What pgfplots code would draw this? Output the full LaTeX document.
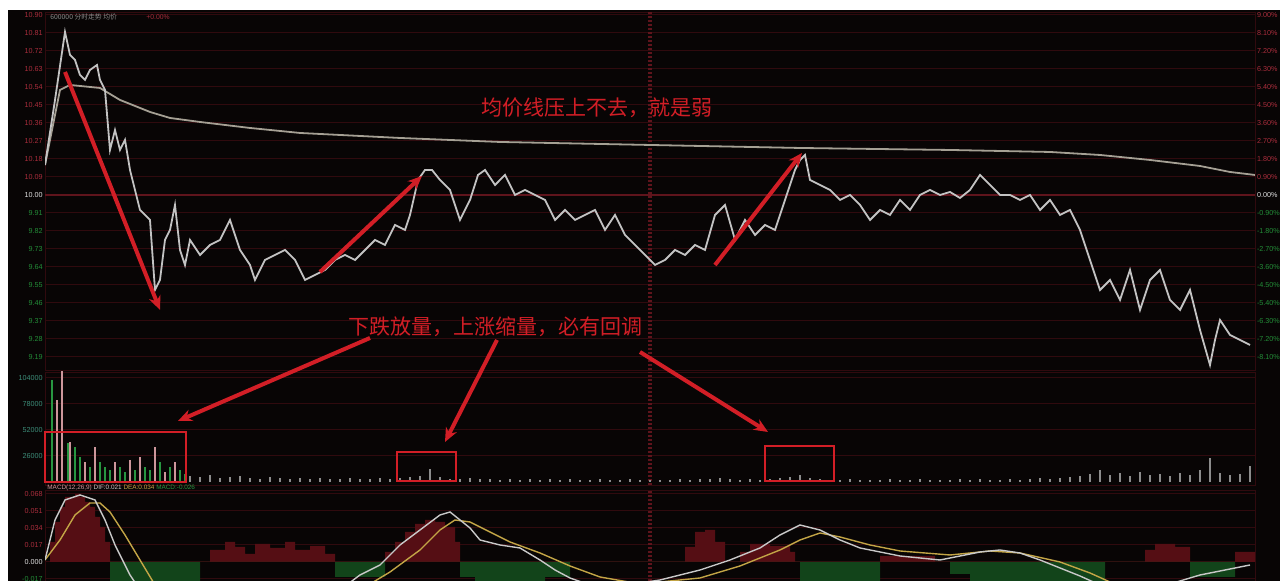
\documentclass[border=0pt]{standalone}
\usepackage{pgfplots}
\pgfplotsset{compat=1.18}
\usepackage{fontspec}
\setmainfont{Liberation Sans}
\newfontfamily\cjk{Noto Sans CJK SC}
\usetikzlibrary{arrows.meta}

\definecolor{bg}{RGB}{8,5,5}
\definecolor{gridred}{RGB}{48,10,14}
\definecolor{zerored}{RGB}{95,20,28}
\definecolor{upred}{RGB}{170,45,60}
\definecolor{dngreen}{RGB}{35,140,55}
\definecolor{zerow}{RGB}{225,225,225}
\definecolor{priceln}{RGB}{195,195,195}
\definecolor{avgln}{RGB}{165,160,148}
\definecolor{annot}{RGB}{210,30,38}
\definecolor{volup}{RGB}{205,150,155}
\definecolor{voldn}{RGB}{40,150,65}
\definecolor{voltail}{RGB}{140,140,140}
\definecolor{histred}{RGB}{85,14,20}
\definecolor{histgreen}{RGB}{18,68,26}
\definecolor{difln}{RGB}{200,200,200}
\definecolor{dealn}{RGB}{195,165,70}
\definecolor{teal}{RGB}{60,140,120}

% colour a tick label by its sign
\newcommand{\sgncol}[1]{%
  \pgfmathfloatparsenumber{#1}\pgfmathfloattofixed{\pgfmathresult}\edef\tv{\pgfmathresult}%
  \ifdim\tv pt>0.01pt\color{upred}\else\ifdim\tv pt<-0.01pt\color{dngreen}\else\color{zerow}\fi\fi}

\pgfplotsset{
  panel/.style={
    scale only axis, width=605pt, anchor=south west,
    xmin=0, xmax=242, clip=true,
    axis line style={draw=gridred},
    tick style={draw=none}, xtick=\empty,
    ymajorgrids, major grid style={gridred, line width=0.5pt},
    extra x ticks={121}, extra x tick labels={},
    extra x tick style={grid=major, major grid style={zerored, line width=1.6pt, dash pattern=on 1.2pt off 0.8pt}},
    every tick label/.append style={font=\fontsize{3.6}{4}\selectfont},
    /pgf/number format/assume math mode=true,
  },
}

\begin{document}
\begin{tikzpicture}
\useasboundingbox (0,0) rectangle (640pt,290.5pt);
\fill[white] (0,0) rectangle (640pt,290.5pt);
\fill[bg] (4pt,0) rectangle (640pt,285.5pt);

% ---- price panel, left labels (price)
\begin{axis}[panel, at={(22.5pt,105.5pt)}, height=179pt,
  ymin=-8.75, ymax=9.15,
  ytick={-8.1,-7.2,-6.3,-5.4,-4.5,-3.6,-2.7,-1.8,-0.9,0,0.9,1.8,2.7,3.6,4.5,5.4,6.3,7.2,8.1,9.0},
  yticklabel style={inner sep=1pt},
  yticklabel={\sgncol{\tick}\pgfmathparse{10+\tv/10}\pgfmathprintnumber[fixed,precision=2,fixed zerofill]{\pgfmathresult}},
  extra y ticks={0}, extra y tick labels={},
  extra y tick style={grid=major, major grid style={zerored, line width=0.9pt}},
]
\addplot[avgln, line width=0.9pt] coordinates {
(0,1.5)(3,5.25)(5,5.5)(11,5.35)(15,4.75)(21,4.15)(25,3.85)(31,3.65)(41,3.35)(51,3.1)(71,2.85)
(91,2.65)(121,2.5)(151,2.35)(181,2.25)(201,2.15)(211,2.0)(221,1.75)(231,1.45)(237,1.15)(242,1.0)};
\addplot[priceln, line width=0.9pt] coordinates {
(0,1.5)(2,4.75)(4,8.15)(5,7.0)(6,6.75)(7,6.0)(8,5.75)(9,6.25)(10.4,6.5)(11,5.75)(12,5.25)(13,2.25)
(14,3.25)(15,2.25)(16,2.75)(17,1.25)(19,-0.75)(21,-1.25)(22,-4.75)(23,-4.25)(24,-2.25)(25,-1.75)
(26,-0.5)(27,-2.75)(28,-3.5)(29,-2.25)(31,-3.0)(33,-2.5)(35,-2.25)(37,-1.25)(39,-2.75)(41,-3.5)
(42,-4.25)(44,-3.25)(46,-3.0)(48,-2.75)(50,-3.25)(52,-4.25)(54,-4.0)(56,-3.75)(58,-3.25)(60,-3.0)
(62,-3.25)(64,-2.75)(66,-2.25)(68,-2.5)(70,-1.5)(72,-1.75)(73,-1.0)(74.6,0.75)(76,1.25)(77.4,1.25)
(79,0.75)(81,0.25)(83,-1.25)(85,-0.25)(86.6,1.0)(88,1.25)(90,0.5)(92,1.0)(94,0)(96,0.25)(98,0)
(100,-0.25)(102,-1.25)(104,-0.75)(106,-1.25)(108,-1.0)(110,-0.75)(112,-1.75)(114,-1.0)(116,-2.0)
(118,-2.5)(120,-3.0)(122,-3.5)(124,-3.25)(126,-2.75)(128,-3.0)(130,-2.5)(132,-2.75)(134,-1.0)
(136,-0.5)(138,-2.25)(140,-1.25)(142,-2.0)(144,-1.5)(146,-1.75)(148,-0.25)(150,1.25)(151,1.75)
(152,2.0)(153,0.75)(155,0.5)(157,0.25)(159,-0.25)(161,0)(163,-0.5)(165,-1.25)(167,-0.75)(169,-1.0)
(171,-0.25)(173,-0.75)(175,0)(177,0.25)(179,0)(181,0.15)(183,-0.15)(185,0.25)(187,1.0)(189,0.5)
(191,0)(193,0)(195,-0.25)(197,0)(199,-0.75)(201,-0.25)(203,-1.0)(205,-0.75)(207,-1.75)(209,-3.25)
(211,-4.75)(213,-4.25)(215,-5.25)(217,-3.75)(219,-5.75)(221,-4.25)(223,-3.75)(225,-5.25)(227,-5.75)
(229,-4.75)(231,-6.75)(233,-8.5)(234,-7.25)(235,-6.25)(237,-7.0)(239,-7.25)(241,-7.5)};
\end{axis}

% ---- price panel, right labels (percent)
\begin{axis}[panel, at={(22.5pt,105.5pt)}, height=179pt,
  ymin=-8.75, ymax=9.15, ymajorgrids=false, extra x ticks={},
  axis x line=none, axis y line*=right,
  ytick={-8.1,-7.2,-6.3,-5.4,-4.5,-3.6,-2.7,-1.8,-0.9,0,0.9,1.8,2.7,3.6,4.5,5.4,6.3,7.2,8.1,9.0},
  yticklabel style={inner sep=0.8pt},
  yticklabel={\sgncol{\tick}\pgfmathprintnumber[fixed,precision=2,fixed zerofill]{\tv}\%},
]
\end{axis}

% ---- volume panel
\begin{axis}[panel, at={(22.5pt,48pt)}, height=56.5pt,
  ymin=-0.3, ymax=11,
  ytick={2.6,5.2,7.8,10.4}, yticklabels={26000,52000,78000,104000},
  yticklabel style={inner sep=1pt, text=teal},
]
\addplot[volup, ycomb, line width=1pt] coordinates {
(2.4,8.2)(3.4,11.4)(5,4)(8,2)(10,3.5)(14,2)(17,2.2)(19,2.5)(22,3.5)(24,1)(26,2)};
\addplot[voldn, ycomb, line width=1pt] coordinates {
(1.4,10.2)(4.6,3.9)(6,3.5)(7,2.5)(9,1.5)(11,2)(12,1.5)(13,1.2)(15,1.5)(16,1)(18,1.2)(20,1.5)
(21,1.2)(23,2)(25,1.5)(27,1.2)(28,0.8)};
\addplot[voltail, ycomb, line width=0.6pt] coordinates {
(29,0.6)(31,0.5)(33,0.7)(35,0.4)(37,0.5)(39,0.6)(41,0.4)(43,0.3)(45,0.5)(47,0.4)(49,0.3)(51,0.4)
(53,0.3)(55,0.4)(57,0.3)(59,0.3)(61,0.4)(63,0.3)(65,0.3)(67,0.4)(69,0.3)(71,0.4)(73,0.5)(75,0.6)
(77,1.3)(79,0.5)(81,0.3)(83,0.3)(85,0.4)(87,0.3)(89,0.3)(91,0.2)(93,0.3)(95,0.2)(97,0.3)(99,0.2)
(101,0.3)(103,0.2)(105,0.3)(107,0.2)(109,0.2)(111,0.3)(113,0.2)(115,0.2)(117,0.3)(119,0.2)(121,0.2)
(123,0.2)(125,0.2)(127,0.3)(129,0.2)(131,0.3)(133,0.3)(135,0.4)(137,0.3)(139,0.2)(141,0.3)(143,0.2)
(145,0.3)(147,0.4)(149,0.5)(151,0.7)(153,0.4)(155,0.3)(157,0.2)(159,0.2)(161,0.3)(163,0.2)(165,0.2)
(167,0.2)(169,0.3)(171,0.2)(173,0.2)(175,0.3)(177,0.2)(179,0.2)(181,0.2)(183,0.3)(185,0.2)(187,0.3)
(189,0.2)(191,0.2)(193,0.3)(195,0.2)(197,0.3)(199,0.4)(201,0.3)(203,0.4)(205,0.5)(207,0.6)(209,0.8)
(211,1.2)(213,0.7)(215,0.9)(217,0.6)(219,1.0)(221,0.7)(223,0.8)(225,0.6)(227,0.9)(229,0.7)(231,1.2)
(233,2.4)(235,0.9)(237,0.7)(239,0.8)(241,1.6)};
\end{axis}

% ---- MACD panel
\begin{axis}[panel, at={(22.5pt,0pt)}, height=45.5pt,
  ymin=-1.9, ymax=7.2,
  ytick={-1.7,0,1.7,3.4,5.1,6.8},
  yticklabel style={inner sep=1pt},
  yticklabel={\sgncol{\tick}\pgfmathparse{\tv/100}\pgfmathprintnumber[fixed,precision=3,fixed zerofill]{\pgfmathresult}},
]
\addplot[const plot, fill=histred, draw=none] coordinates {
(1,0)(1,2)(2,4)(3,5.5)(4,6.5)(5,6.5)(6,6.8)(7,6.5)(8,6)(9,5.5)(10,4.5)(11,3.5)(12,2)(13,0)
(33,0)(33,1.2)(36,2)(38,1.5)(40,0.8)(42,1.8)(45,1.4)(48,2)(50,1.2)(53,1.6)(56,0.8)(58,0)
(68,0)(68,1)(70,2)(72,3)(74,3.8)(76,4.2)(78,4)(80,3.5)(82,2)(83,0)
(128,0)(128,1.5)(130,3)(132,3.2)(134,2)(136,0)
(139,0)(139,1)(141,1.8)(145,1.6)(149,1)(150,0)
(167,0)(167,0.6)(178,0)
(220,0)(220,1.2)(222,1.8)(226,1.5)(229,0)
(238,0)(238,1)(242,0)};
\addplot[const plot, fill=histgreen, draw=none] coordinates {
(13,0)(13,-2)(31,0)
(58,0)(58,-1.5)(68,0)
(83,0)(83,-1.5)(86,-2)(100,-1.5)(105,0)
(151,0)(151,-2)(167,0)
(181,0)(181,-1.2)(185,-2)(205,-2)(212,0)
(229,0)(229,-1.5)(238,0)};
\addplot[dealn, line width=0.7pt] coordinates {
(0,0.2)(3,2.2)(6,4.7)(9,5.9)(11,5.9)(13,5.0)(16,2.7)(19,0.2)(22,-2.3)(31,-4.8)(55,-4.8)(63,-2.8)
(69,-1.0)(75,1.2)(79,3.2)(82,4.2)(85,4.0)(89,3.0)(93,2.0)(99,0.9)(105,-0.4)(111,-1.5)(119,-2.2)
(131,-1.6)(139,-0.4)(147,1.2)(151,2.2)(155,2.9)(159,2.5)(165,1.7)(171,1.1)(181,0.7)(189,1.1)
(195,0.9)(203,0)(209,-1.1)(213,-2.0)(221,-2.8)(231,-2.4)(241,-2.0)};
\addplot[difln, line width=0.7pt] coordinates {
(0,0.2)(2,4.2)(4,6.2)(7,6.7)(10,6.2)(12,4.2)(14,1.7)(17,-1.3)(19,-2.8)(31,-4.8)(51,-4.8)(59,-2.8)
(63,-1.3)(67,-0.3)(71,1.7)(75,3.2)(79,4.7)(81,5.0)(83,4.2)(85,3.4)(87,2.2)(91,1.7)(95,1.4)(99,0.2)
(102,-0.8)(105,-1.6)(109,-2.3)(119,-2.1)(123,-1.8)(131,-0.8)(137,0.2)(143,1.4)(147,2.7)(151,3.7)
(155,3.2)(159,2.2)(163,1.4)(167,1.0)(171,0.6)(179,0.2)(187,1.0)(191,1.2)(195,0.9)(199,0.2)
(203,-0.6)(207,-1.4)(211,-2.3)(221,-2.8)(231,-1.3)(241,-0.3)};
\end{axis}

% ---- texts and annotations in pixel units of the reference
\begin{scope}[shift={(0pt,290.5pt)}, x=0.5pt, y=-0.5pt]
  \node[anchor=west, inner sep=0, font=\cjk\fontsize{3.4}{4}\selectfont, text=voltail] at (50,17)
    {600000\ 分时走势\ 均价};
  \node[anchor=west, inner sep=0, font=\fontsize{3.4}{4}\selectfont, text=upred] at (146,17) {+0.00\%};
  \node[anchor=west, inner sep=0, font=\fontsize{3.2}{4}\selectfont] at (47,488)
    {\textcolor{volup}{MACD(12,26,9)}\ \textcolor{difln}{DIF:0.021}\ \textcolor{dealn}{DEA:0.034}\ \textcolor{voldn}{MACD:-0.026}};

  \node[font=\cjk\fontsize{10.5}{12}\selectfont, text=annot] at (597,108) {均价线压上不去，就是弱};
  \node[font=\cjk\fontsize{10.5}{12}\selectfont, text=annot] at (495,327) {下跌放量，上涨缩量，必有回调};

  \begin{scope}[annot, line width=2pt, -{Stealth[length=7pt,width=6pt]}]
    \draw (65,72) -- (160,310);
    \draw (320,272) -- (422,176);
    \draw (715,265) -- (802,153);
    \draw (370,338) -- (178,421);
    \draw (497,340) -- (445,442);
    \draw (640,352) -- (768,432);
  \end{scope}
  \begin{scope}[annot, line width=1.1pt]
    \draw (45,432) rectangle (186,482);
    \draw (397,452) rectangle (456,481);
    \draw (765,446) rectangle (834,481);
  \end{scope}
\end{scope}
\end{tikzpicture}
\end{document}
